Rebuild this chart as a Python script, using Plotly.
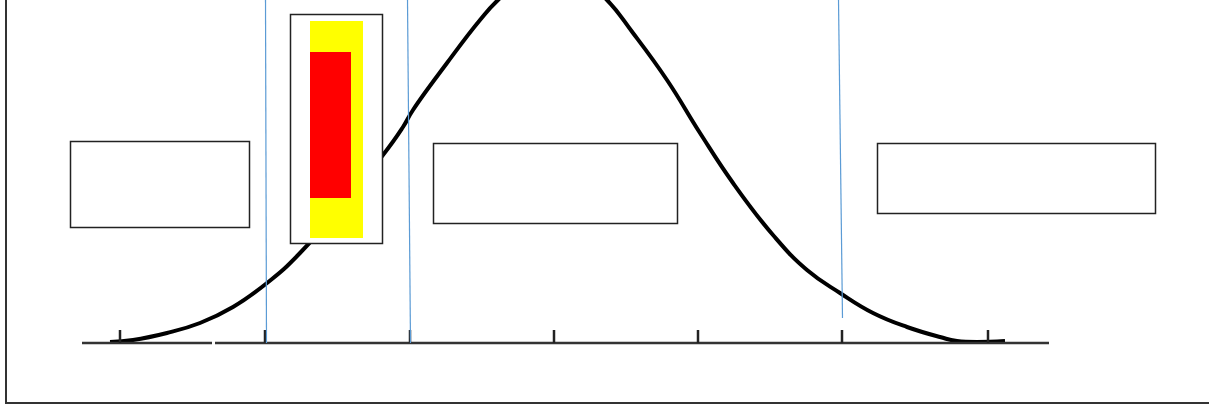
import plotly.graph_objects as go

# bell curve (pixel coords, y grows downward)
curve_x = [110, 133, 167, 200, 233, 267, 300, 383, 403, 413, 447, 480, 498, 525, 552, 580,
           607, 633, 667, 700, 733, 773, 807, 840, 873, 907, 940, 957, 1005]
curve_y = [342, 340, 333, 323, 307, 283, 253, 155, 127, 110, 63, 20, 0, -22, -30, -22,
           0, 33, 80, 133, 183, 235, 270, 293, 313, 327, 337, 341, 341]

# baseline and its tick marks
axis_x = [82, 212, None, 215, 1049]
axis_y = [343, 343, None, 343, 343]
tick_x = [120, 265, 410, 554, 698, 842, 988]
tick_top = 330
tick_bottom = 343

# thin blue cut lines: top x, bottom x, bottom y
cut_top_x = [265, 407, 838]
cut_bot_x = [266, 410, 842]
cut_bot_y = [343, 343, 318]

# empty outlined boxes
box_x0 = [70, 433, 877]
box_x1 = [249, 677, 1155]
box_y0 = [141, 143, 143]
box_y1 = [227, 223, 213]

# the tall box with yellow / red fill
tall_box = [290, 14, 382, 243]
yellow_rect = [310, 21, 363, 238]
red_rect = [310, 52, 351, 198]

fig = go.Figure()

fig.add_trace(go.Scatter(x=curve_x, y=curve_y, mode='lines',
                         line=dict(color='black', width=4, shape='spline', smoothing=1.3)))

fig.add_trace(go.Scatter(x=axis_x, y=axis_y, mode='lines',
                         line=dict(color='#333333', width=2.5)))

tx, ty = [], []
for x in tick_x:
    tx += [x, x, None]
    ty += [tick_top, tick_bottom, None]
fig.add_trace(go.Scatter(x=tx, y=ty, mode='lines', line=dict(color='#222222', width=2.5)))

bx, by = [], []
for a, b, c in zip(cut_top_x, cut_bot_x, cut_bot_y):
    bx += [a + 0.5, b + 0.5, None]
    by += [0, c, None]
fig.add_trace(go.Scatter(x=bx, y=by, mode='lines', line=dict(color='#5B9BD5', width=1.2)))

# frame: left and bottom edges
fig.add_trace(go.Scatter(x=[6, 6, 1209], y=[0, 403, 403], mode='lines',
                         line=dict(color='#333333', width=2)))

for x0, x1, y0, y1 in zip(box_x0, box_x1, box_y0, box_y1):
    fig.add_shape(type='rect', x0=x0 + 0.5, x1=x1 + 0.5, y0=y0 + 0.5, y1=y1 + 0.5,
                  line=dict(color='#222222', width=1.5), fillcolor='rgba(0,0,0,0)', layer='above')

fig.add_shape(type='rect', x0=tall_box[0] + 0.5, y0=tall_box[1] + 0.5, x1=tall_box[2] + 0.5,
              y1=tall_box[3] + 0.5, line=dict(color='#222222', width=1.5), fillcolor='white',
              layer='above')
fig.add_shape(type='rect', x0=yellow_rect[0], y0=yellow_rect[1], x1=yellow_rect[2],
              y1=yellow_rect[3], line=dict(width=0), fillcolor='#FFFF00', layer='above')
fig.add_shape(type='rect', x0=red_rect[0], y0=red_rect[1], x1=red_rect[2],
              y1=red_rect[3], line=dict(width=0), fillcolor='#FF0000', layer='above')

fig.update_layout(
    width=1209, height=407,
    margin=dict(l=0, r=0, t=0, b=0),
    paper_bgcolor='white', plot_bgcolor='white',
    showlegend=False,
    xaxis=dict(range=[0, 1209], visible=False, fixedrange=True),
    yaxis=dict(range=[407, 0], visible=False, fixedrange=True),
)

fig.write_html("out.html", config={'displayModeBar': False},
               post_script="document.body.style.margin='0';document.body.style.overflow='hidden';")
